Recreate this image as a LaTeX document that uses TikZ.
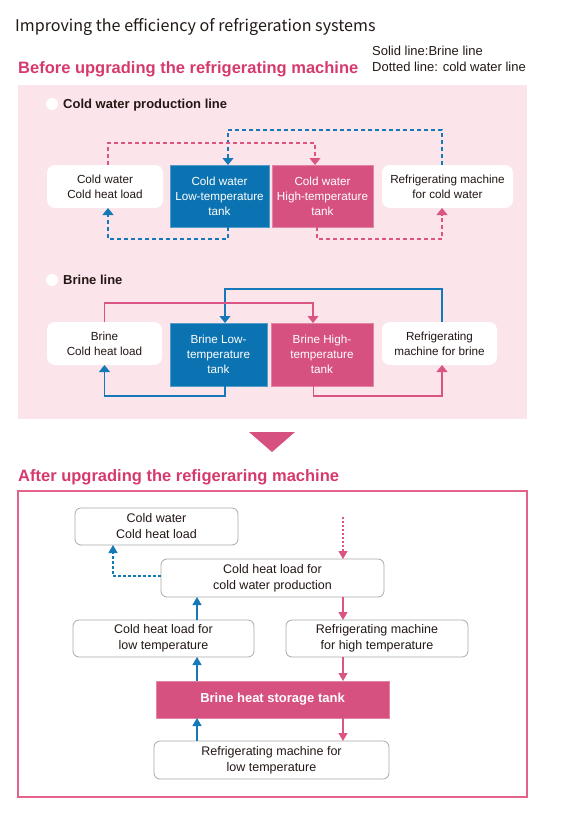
\documentclass[tikz,border=0pt]{standalone}
\usepackage{fontspec}
\setmainfont{Liberation Sans}
\newfontfamily\titlefont{Noto Sans CJK JP}
\usetikzlibrary{arrows.meta}
\definecolor{bl}{HTML}{0B73B1}
\definecolor{blline}{HTML}{1479B6}
\definecolor{pk}{HTML}{D6517F}
\definecolor{pkline}{HTML}{DA5583}
\definecolor{pktitle}{HTML}{D63A6C}
\definecolor{band}{HTML}{FBE5EA}
\definecolor{frame}{HTML}{E2628A}
\definecolor{txt}{HTML}{231815}
\definecolor{gb}{HTML}{A9A9A9}
\tikzset{
  fs/.style={font=\fontsize{11.7}{15}\selectfont},
  fl/.style={font=\fontsize{12.5}{16}\selectfont},
  wbox/.style={fill=white, rounded corners=8pt, inner sep=0pt, outer sep=0pt, anchor=north west, align=center, text=txt, fs},
  bbox/.style={fill=bl, draw=bl!70!white, line width=0.8pt, inner sep=0pt, outer sep=0pt, anchor=north west, align=center, text=white, fs},
  pbox/.style={fill=pk, draw=pk!70!white, line width=0.8pt, inner sep=0pt, outer sep=0pt, anchor=north west, align=center, text=white, fs},
  gbox/.style={fill=white, draw=gb, line width=0.8pt, rounded corners=6pt, inner sep=0pt, outer sep=0pt, anchor=north west, align=center, text=txt, fl},
  tip/.style={-{Triangle[width=11pt,length=7pt]}},
  tipb/.style={-{Triangle[width=9pt,length=8pt]}},
  bdash/.style={tip, draw=blline, line width=1.2pt, dash pattern=on 4pt off 3pt},
  pdash/.style={tip, draw=pkline, line width=1.2pt, dash pattern=on 4pt off 3pt},
  bsol/.style={tip, draw=blline, line width=1.2pt},
  psol/.style={tip, draw=pkline, line width=1.2pt},
  bsolb/.style={tipb, draw=blline, line width=1.2pt},
  psolb/.style={tipb, draw=pkline, line width=1.2pt},
  bdot/.style={tipb, draw=blline, line width=1.2pt, dash pattern=on 3pt off 2pt},
  pdot/.style={tipb, draw=pkline, line width=1.2pt, dash pattern=on 2pt off 2pt},
  head/.style={anchor=base west, text=pktitle, font=\fontsize{16.5}{20}\selectfont\bfseries},
  sub/.style={anchor=base west, text=txt, font=\fontsize{13}{16}\selectfont\bfseries},
}
\begin{document}
\begin{tikzpicture}[x=1pt,y=-1pt]
\useasboundingbox (0,0) rectangle (560,816);
% titles
\node[anchor=base west, inner sep=0pt, text=txt, font=\titlefont\fontsize{16.1}{19}\selectfont] (title) at (15,32) {Improving the efficiency of refrigeration systems};
\node[head, inner sep=0pt] (before) at (18,74) {Before upgrading the refrigerating machine};
\node[anchor=base west, inner sep=0pt, text=txt, font=\fontsize{13}{15}\selectfont] (leg1) at (372,56) {Solid line:Brine line};
\node[anchor=base west, inner sep=0pt, text=txt, font=\fontsize{13}{15}\selectfont] (leg2) at (372,71) {Dotted line: cold water line};
% band
\path[fill=band] (18,85) rectangle (527,419);
% cold water production line
\node[circle, fill=white, minimum size=12pt, inner sep=0pt] (c1) at (52,104) {};
\node[sub, inner sep=0pt] (s1) at (63,108.7) {Cold water production line};
\node[wbox, minimum width=116pt, minimum height=43pt] (cwload) at (47,165) {Cold water\\Cold heat load};
\node[bbox, minimum width=99pt, minimum height=62pt] (cwlow) at (170,165) {Cold water\\Low-temperature\\tank};
\node[pbox, minimum width=101pt, minimum height=62pt] (cwhigh) at (272,165) {Cold water\\High-temperature\\tank};
\node[wbox, minimum width=131pt, minimum height=43pt] (cwmach) at (382,165) {Refrigerating machine\\for cold water};
\draw[bdash] ([xshift=-5.5pt]cwmach.north) -- ++(0,-35) -| ([xshift=8.5pt]cwlow.north);
\draw[pdash] ([xshift=3pt]cwload.north) -- ++(0,-22) -| ([xshift=-7.5pt]cwhigh.north);
\draw[bdash] ([xshift=8.5pt]cwlow.south) -- ++(0,12) -| ([xshift=3pt]cwload.south);
\draw[pdash] ([xshift=-5.5pt]cwhigh.south) -- ++(0,12) -| ([xshift=-5.5pt]cwmach.south);
% brine line
\node[circle, fill=white, minimum size=12pt, inner sep=0pt] (c2) at (52,280) {};
\node[sub, inner sep=0pt] (s2) at (63,284.7) {Brine line};
\node[wbox, minimum width=115pt, minimum height=43pt] (brload) at (47,322) {Brine\\Cold heat load};
\node[bbox, minimum width=97pt, minimum height=63pt] (brlow) at (170,323) {Brine Low-\\temperature\\tank};
\node[pbox, minimum width=102pt, minimum height=63pt] (brhigh) at (271,323) {Brine High-\\temperature\\tank};
\node[wbox, minimum width=115pt, minimum height=43pt] (brmach) at (382,322) {Refrigerating\\machine for brine};
\draw[bsol] ([xshift=2.5pt]brmach.north) -- ++(0,-33) -| ([xshift=6.5pt]brlow.north);
\draw[psol] (brload.north) -- ++(0,-19) -| ([xshift=-9pt]brhigh.north);
\draw[bsol] ([xshift=6.5pt]brlow.south) -- ++(0,10) -| (brload.south);
\draw[psol] ([xshift=-8.5pt]brhigh.south) -- ++(0,10) -| ([xshift=2.5pt]brmach.south);
% transition
\path[fill=pk] (249,432) -- (295,432) -- (272,452) -- cycle;
\node[head, inner sep=0pt] (after) at (18,481) {After upgrading the refigeraring machine};
\draw[frame, line width=1.2pt] (18,491) rectangle (527,797);
% after diagram
\node[gbox, minimum width=163pt, minimum height=37pt] (cw2) at (75,508) {Cold water\\Cold heat load};
\node[gbox, minimum width=223pt, minimum height=38pt] (prod) at (161,559) {Cold heat load for\\cold water production};
\node[gbox, minimum width=181pt, minimum height=37pt] (low) at (73,620) {Cold heat load for\\low temperature};
\node[gbox, minimum width=182pt, minimum height=37pt] (high) at (286,620) {Refrigerating machine\\for high temperature};
\node[fill=pk, draw=pk!70!white, line width=0.8pt, inner sep=0pt, outer sep=0pt, anchor=north west, text=white, font=\fontsize{13}{16}\selectfont\bfseries, minimum width=233pt, minimum height=37pt] (tank) at (156,681) {Brine heat storage tank};
\node[gbox, minimum width=235pt, minimum height=38pt] (lowmach) at (154,741) {Refrigerating machine for\\low temperature};
\coordinate (src) at (343,517);
\draw[pdot] (src) -- ([xshift=70.5pt]prod.north);
\draw[bdot] ([yshift=2pt]prod.west) -| ([xshift=-43.5pt]cw2.south);
\draw[psolb] ([xshift=70.5pt]prod.south) -- ([xshift=-34pt]high.north);
\draw[psolb] ([xshift=-34pt]high.south) -- ([xshift=70.5pt]tank.north);
\draw[psolb] ([xshift=70.5pt]tank.south) -- ([xshift=71.5pt]lowmach.north);
\draw[bsolb] ([xshift=33.5pt]low.north) -- ([xshift=-75.5pt]prod.south);
\draw[bsolb] ([xshift=-75.5pt]tank.north) -- ([xshift=33.5pt]low.south);
\draw[bsolb] ([xshift=-74.5pt]lowmach.north) -- ([xshift=-75.5pt]tank.south);
\end{tikzpicture}
\end{document}
